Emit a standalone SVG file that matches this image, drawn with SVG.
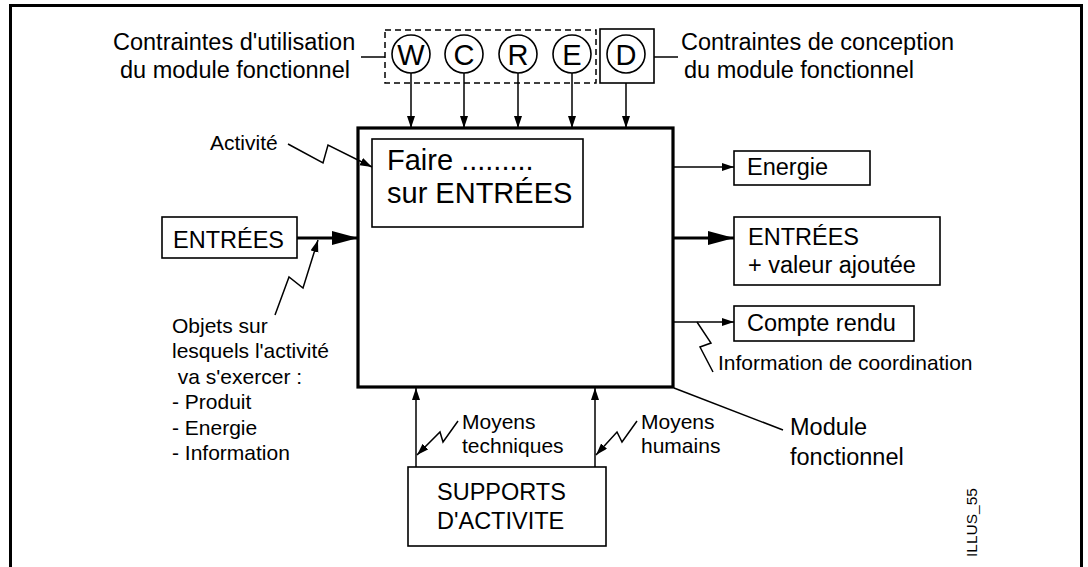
<svg xmlns="http://www.w3.org/2000/svg" width="1088" height="567" viewBox="0 0 1088 567">
  <style>
    text { font-family: "Liberation Sans", Arial, sans-serif; fill: #000; }
    .lg { font-size: 23.5px; }
    .sm { font-size: 21px; }
    .xl { font-size: 29px; }
    .ltr { font-size: 29px; text-anchor: middle; }
    .box { fill: #fff; stroke: #000; stroke-width: 1.6; }
    .thin { fill: none; stroke: #000; stroke-width: 1.5; }
    .thick { fill: none; stroke: #000; stroke-width: 3.2; }
  </style>
  <defs>
    <marker id="arr" markerUnits="userSpaceOnUse" markerWidth="13" markerHeight="9" refX="12" refY="4" orient="auto">
      <path d="M0,0 L12,4 L0,8 z" fill="#000"/>
    </marker>
    <marker id="arrBig" markerUnits="userSpaceOnUse" markerWidth="27" markerHeight="15" refX="26" refY="7" orient="auto">
      <path d="M0,0 L26,7 L0,14 z" fill="#000"/>
    </marker>
  </defs>

  <rect width="1088" height="567" fill="#fff"/>
  <!-- outer frame, open at the bottom edge -->
  <rect x="10.5" y="5.5" width="1071" height="600" fill="none" stroke="#000" stroke-width="3"/>

  <g id="module">
    <rect x="358" y="128" width="315" height="259" fill="none" stroke="#000" stroke-width="3.2"/>
    <rect x="372" y="139" width="211" height="88" class="box"/>
    <text class="xl" x="387" y="170">Faire .........</text>
    <text class="xl" x="387" y="203">sur ENTRÉES</text>
  </g>

  <g id="connectors">
    <!-- constraints feeding the module -->
    <line class="thin" x1="411" y1="73" x2="411" y2="128" marker-end="url(#arr)"/>
    <line class="thin" x1="464" y1="73" x2="464" y2="128" marker-end="url(#arr)"/>
    <line class="thin" x1="518" y1="73" x2="518" y2="128" marker-end="url(#arr)"/>
    <line class="thin" x1="572" y1="73" x2="572" y2="128" marker-end="url(#arr)"/>
    <line class="thin" x1="626" y1="73" x2="626" y2="128" marker-end="url(#arr)"/>
    <!-- label leaders for constraints -->
    <line class="thin" x1="361" y1="57" x2="385" y2="57"/>
    <line class="thin" x1="654" y1="57" x2="678" y2="57"/>
    <!-- inputs -->
    <line class="thick" x1="297" y1="238" x2="358" y2="238" marker-end="url(#arrBig)"/>
    <!-- outputs -->
    <line class="thin" x1="673" y1="167" x2="734" y2="167" marker-end="url(#arr)"/>
    <line class="thick" x1="673" y1="238" x2="734" y2="238" marker-end="url(#arrBig)"/>
    <line class="thin" x1="673" y1="322" x2="734" y2="322" marker-end="url(#arr)"/>
    <!-- supports -->
    <line class="thin" x1="416" y1="467" x2="416" y2="388" marker-end="url(#arr)"/>
    <line class="thin" x1="595" y1="467" x2="595" y2="388" marker-end="url(#arr)"/>
    <!-- zigzag annotation leaders -->
    <polyline class="thin" points="288,144 323,163 328,145 372,167" marker-end="url(#arr)"/>
    <polyline class="thin" points="275,315 289,277 303,288 318,240" marker-end="url(#arr)"/>
    <polyline class="thin" points="697,322 711,343 700,347 713,372"/>
    <polyline class="thin" points="458,421 443,442 440,432 417,455" marker-end="url(#arr)"/>
    <polyline class="thin" points="637,421 622,442 617,432 596,455" marker-end="url(#arr)"/>
    <!-- module leader -->
    <line class="thin" x1="674" y1="388" x2="783" y2="430"/>
  </g>

  <g id="usage-constraints">
    <rect x="385" y="30" width="211" height="53" fill="none" stroke="#000" stroke-width="1.5" stroke-dasharray="6,4"/>
    <circle cx="411" cy="54" r="19" class="box"/>
    <text class="ltr" x="411" y="65">W</text>
    <circle cx="464" cy="54" r="19" class="box"/>
    <text class="ltr" x="464" y="65">C</text>
    <circle cx="518" cy="54" r="19" class="box"/>
    <text class="ltr" x="518" y="65">R</text>
    <circle cx="572" cy="54" r="19" class="box"/>
    <text class="ltr" x="572" y="65">E</text>
    <text class="lg" x="113" y="50">Contraintes d'utilisation</text>
    <text class="lg" x="120" y="78">du module fonctionnel</text>
  </g>

  <g id="design-constraint">
    <rect x="600" y="29" width="54" height="54" class="box"/>
    <circle cx="626" cy="54" r="19" class="box"/>
    <text class="ltr" x="626" y="65">D</text>
    <text class="lg" x="681" y="50">Contraintes de conception</text>
    <text class="lg" x="684" y="78">du module fonctionnel</text>
  </g>

  <g id="activity-label">
    <text class="sm" x="210" y="150">Activité</text>
  </g>

  <g id="inputs">
    <rect x="162" y="217" width="135" height="41" class="box"/>
    <text class="lg" x="173" y="248">ENTRÉES</text>
  </g>

  <g id="objects-label">
    <text class="sm" x="172" y="333">Objets sur</text>
    <text class="sm" x="172" y="358">lesquels l'activité</text>
    <text class="sm" x="172" y="384" xml:space="preserve"> va s'exercer :</text>
    <text class="sm" x="172" y="409">- Produit</text>
    <text class="sm" x="172" y="435">- Energie</text>
    <text class="sm" x="172" y="460">- Information</text>
  </g>

  <g id="energy">
    <rect x="734" y="151" width="136" height="34" class="box"/>
    <text class="lg" x="747" y="175">Energie</text>
  </g>

  <g id="outputs">
    <rect x="734" y="217" width="206" height="68" class="box"/>
    <text class="lg" x="748" y="245">ENTRÉES</text>
    <text class="lg" x="748" y="273">+ valeur ajoutée</text>
  </g>

  <g id="report">
    <rect x="734" y="306" width="180" height="35" class="box"/>
    <text class="lg" x="747" y="331">Compte rendu</text>
  </g>

  <g id="coordination-label">
    <text class="sm" x="718" y="370">Information de coordination</text>
  </g>

  <g id="module-label">
    <text class="lg" x="790" y="435">Module</text>
    <text class="lg" x="790" y="465">fonctionnel</text>
  </g>

  <g id="technical-label">
    <text class="sm" x="462" y="429">Moyens</text>
    <text class="sm" x="462" y="453">techniques</text>
  </g>

  <g id="human-label">
    <text class="sm" x="641" y="429">Moyens</text>
    <text class="sm" x="641" y="453">humains</text>
  </g>

  <g id="supports">
    <rect x="408" y="467" width="198" height="79" class="box"/>
    <text class="lg" x="437" y="500">SUPPORTS</text>
    <text class="lg" x="437" y="529">D'ACTIVITE</text>
  </g>

  <g id="reference-tag">
    <text x="0" y="0" font-size="15.5" transform="translate(977,557) rotate(-90)">ILLUS_55</text>
  </g>
</svg>
